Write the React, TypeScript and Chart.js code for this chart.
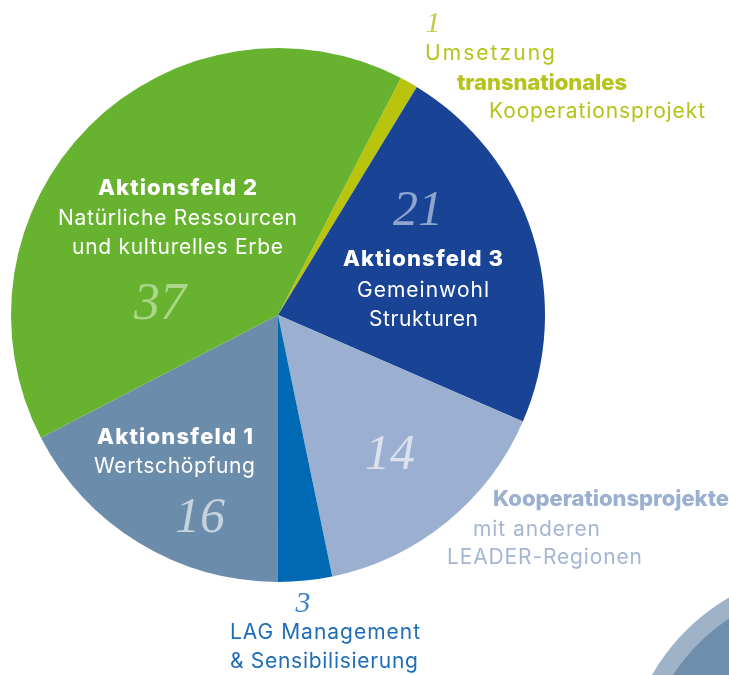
import React, { useEffect, useRef } from "react";
import { Chart, registerables } from "chart.js";

Chart.register(...registerables);

const categories = [
  "Umsetzung transnationales Kooperationsprojekt",
  "Aktionsfeld 3",
  "Kooperationsprojekte mit anderen LEADER-Regionen",
  "LAG Management & Sensibilisierung",
  "Aktionsfeld 1",
  "Aktionsfeld 2",
];
const values = [1, 21, 14, 3, 16, 37];
const sliceColors = ["#b9c40c", "#194395", "#9bb0d0", "#0069b4", "#6b8cab", "#67b32f"];
const startRotation = 27.4;

const FONT_NAME = "Inter";
const FONT = "Inter, 'Open Sans', sans-serif";
const NUMFONT = "'Liberation Serif', 'DejaVu Serif', serif";
const FONT_SIZE = 21;
const BOLD_SIZE = 22;
const BOLD_WEIGHT = 800;

let measureCtx: CanvasRenderingContext2D | null = null;
function measure(text: string, bold: boolean): number {
  if (!measureCtx) measureCtx = document.createElement("canvas").getContext("2d");
  measureCtx!.font = bold
    ? `${BOLD_WEIGHT} ${BOLD_SIZE}px ${FONT_NAME}`
    : `400 ${FONT_SIZE}px ${FONT_NAME}`;
  return measureCtx!.measureText(text).width;
}

type TextLine = { text: string; bold?: boolean; x0: number; x1: number; y: number; color: string };

const white = "#ffffff";
const yellowText = "#b5c31a";
const lightBlueText = "#a3b6d3";
const blueText = "#1e6db8";

const textLines: TextLine[] = [
  { text: "Umsetzung", x0: 425, x1: 555, y: 52, color: yellowText },
  { text: "transnationales", bold: true, x0: 457, x1: 627, y: 82, color: yellowText },
  { text: "Kooperationsprojekt", x0: 489, x1: 705, y: 110, color: yellowText },

  { text: "Aktionsfeld 2", bold: true, x0: 98, x1: 257, y: 187, color: white },
  { text: "Natürliche Ressourcen", x0: 58, x1: 297, y: 217, color: white },
  { text: "und kulturelles Erbe", x0: 72, x1: 283, y: 246, color: white },

  { text: "Aktionsfeld 3", bold: true, x0: 343, x1: 503, y: 258, color: white },
  { text: "Gemeinwohl", x0: 357, x1: 489, y: 289, color: white },
  { text: "Strukturen", x0: 369, x1: 478, y: 318, color: white },

  { text: "Aktionsfeld 1", bold: true, x0: 97, x1: 253, y: 436, color: white },
  { text: "Wertschöpfung", x0: 94, x1: 255, y: 465, color: white },

  { text: "Kooperationsprojekte", bold: true, x0: 493, x1: 729, y: 498, color: "#9bb0d0" },
  { text: "mit anderen", x0: 473, x1: 600, y: 528, color: lightBlueText },
  { text: "LEADER-Regionen", x0: 447, x1: 642, y: 556, color: lightBlueText },

  { text: "LAG Management", x0: 230, x1: 420, y: 631, color: blueText },
  { text: "& Sensibilisierung", x0: 230, x1: 418, y: 660, color: blueText },
];

const num = (v: number, x: number, y: number, color: string, size: number, key: string) => (
  <div
    key={key}
    style={{
      position: "absolute",
      left: x,
      top: y,
      transform: "translate(-50%, -50%)",
      fontFamily: NUMFONT,
      fontStyle: "italic",
      fontSize: size,
      color,
      lineHeight: 1,
      whiteSpace: "nowrap",
    }}
  >
    {v}
  </div>
);

function TextRow({ l }: { l: TextLine }) {
  const w = measure(l.text, !!l.bold);
  const n = Math.max(1, l.text.length - 1);
  const ls = (l.x1 - l.x0 - w) / n;
  return (
    <div
      style={{
        position: "absolute",
        left: l.x0,
        top: l.y,
        transform: "translate(0, -50%)",
        fontFamily: FONT,
        fontWeight: l.bold ? BOLD_WEIGHT : 400,
        fontSize: l.bold ? BOLD_SIZE : FONT_SIZE,
        letterSpacing: ls,
        color: l.color,
        lineHeight: 1,
        whiteSpace: "nowrap",
      }}
    >
      {l.text}
    </div>
  );
}

export default function App() {
  const ref = useRef<HTMLCanvasElement>(null);
  useEffect(() => {
    document.body.style.margin = "0";
    const chart = new Chart(ref.current!, {
      type: "pie",
      data: {
        labels: categories,
        datasets: [
          {
            data: values,
            backgroundColor: sliceColors,
            borderWidth: 0,
          },
        ],
      },
      options: {
        responsive: false,
        animation: false,
        rotation: startRotation,
        layout: { padding: { left: 11, top: 48, right: 184, bottom: 93 } },
        plugins: { legend: { display: false }, tooltip: { enabled: false } },
      },
    });
    return () => chart.destroy();
  }, []);

  return (
    <div style={{ position: "relative", width: 729, height: 675, overflow: "hidden", background: "#fff" }}>
      <div
        style={{
          position: "absolute",
          left: 835 - 211,
          top: 780 - 211,
          width: 422,
          height: 422,
          borderRadius: "50%",
          background: "#9fb3c8",
        }}
      />
      <div
        style={{
          position: "absolute",
          left: 835 - 193,
          top: 780 - 193,
          width: 386,
          height: 386,
          borderRadius: "50%",
          background: "#6e8eac",
        }}
      />
      <canvas ref={ref} width={729} height={675} style={{ position: "absolute", left: 0, top: 0 }} />

      {textLines.map((l, i) => (
        <TextRow key={i} l={l} />
      ))}

      {num(values[0], 433, 22, "#c2cb4a", 30, "n0")}
      {num(values[5], 160, 302, "#a9d88b", 52, "n5")}
      {num(values[1], 418, 208, "#8fa5cf", 50, "n1")}
      {num(values[4], 200, 515, "#c5d2df", 50, "n4")}
      {num(values[2], 390, 452, "#dbe2ee", 50, "n2")}
      {num(values[3], 303, 602, "#3a82c6", 30, "n3")}
    </div>
  );
}
